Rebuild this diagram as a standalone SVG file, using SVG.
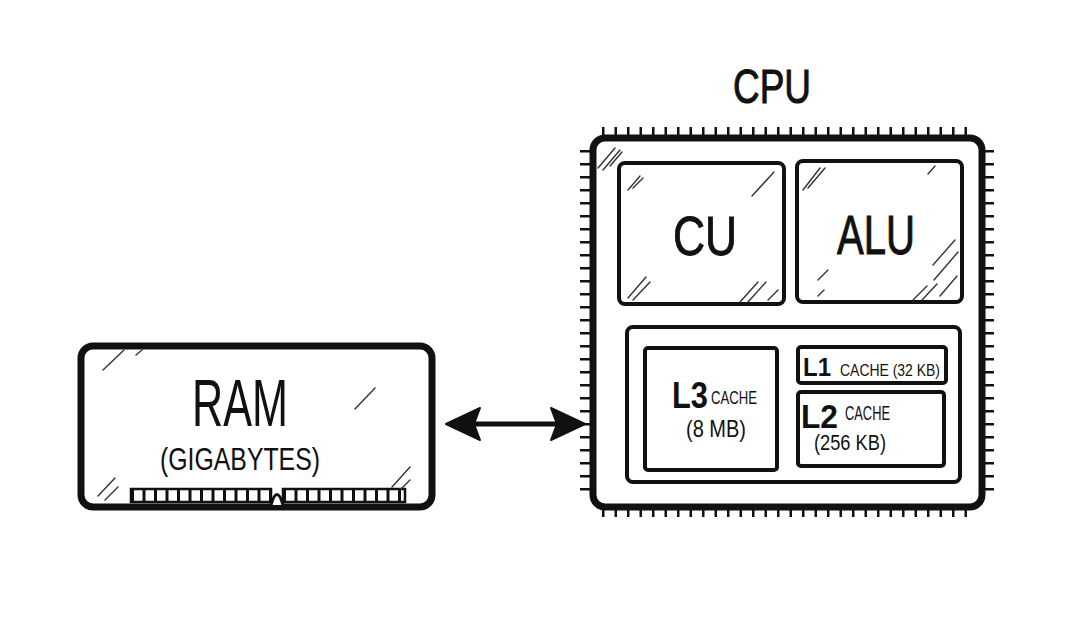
<svg xmlns="http://www.w3.org/2000/svg" width="1080" height="631" viewBox="0 0 1080 631">
<style>
.box{fill:#fff;stroke:#111;stroke-width:4;stroke-linejoin:round}
.thick{fill:#fff;stroke:#111;stroke-width:7;stroke-linejoin:round}
.hatch{stroke:#333;stroke-width:1.4;stroke-linecap:round;fill:none}
.pin{stroke:#111;fill:none}
.t{font-family:"Liberation Sans","DejaVu Sans",sans-serif;fill:#111;text-anchor:middle}
.s{text-anchor:start}
.b{font-weight:bold}
</style>
<rect width="1080" height="631" fill="#fff"/>

<g id="ram">
  <rect class="thick" x="81" y="346" width="351" height="161" rx="12"/>
  <path d="M131 489 H271 V502 H131 Z M283 489 H405 V502 H283 Z" fill="none" stroke="#111" stroke-width="2.5"/>
  <line x1="131" y1="495.5" x2="271" y2="495.5" stroke="#111" stroke-width="13" stroke-dasharray="3 8.5"/>
  <line x1="283" y1="495.5" x2="405" y2="495.5" stroke="#111" stroke-width="13" stroke-dasharray="3 8.5"/>
  <path d="M271 505 Q277 484 283 505" fill="#fff" stroke="#111" stroke-width="3"/>
  <path class="hatch" d="M103 370 L124 350 M136 355 L142 350 M355 409 L375 388 M98 496 L115 478 M105 500 L118 487 M392 487 L410 467 M400 490 L410 480"/>
  <text class="t" x="240" y="426" font-size="66" textLength="96" lengthAdjust="spacingAndGlyphs">RAM</text>
  <text class="t" x="240" y="470" font-size="32" textLength="160" lengthAdjust="spacingAndGlyphs">(GIGABYTES)</text>
</g>

<g id="connectors">
  <line x1="470" y1="424" x2="560" y2="424" stroke="#111" stroke-width="5"/>
  <path d="M446 424 L480 408 L474 424 L480 440 Z" fill="#111" stroke="#111" stroke-width="2" stroke-linejoin="round"/>
  <path d="M585 424 L551 408 L557 424 L551 440 Z" fill="#111" stroke="#111" stroke-width="2" stroke-linejoin="round"/>
</g>

<g id="cpu">
  <text class="t" x="772" y="103" font-size="48" textLength="78" lengthAdjust="spacingAndGlyphs" stroke="#111" stroke-width="1">CPU</text>
  <line class="pin" x1="602" y1="132" x2="972" y2="132" stroke-width="10" stroke-dasharray="2.5 10"/>
  <line class="pin" x1="602" y1="512" x2="972" y2="512" stroke-width="10" stroke-dasharray="2.5 10"/>
  <line class="pin" x1="586" y1="150" x2="586" y2="500" stroke-width="12" stroke-dasharray="2.5 10.5"/>
  <line class="pin" x1="988" y1="150" x2="988" y2="500" stroke-width="12" stroke-dasharray="2.5 10.5"/>
  <rect class="thick" x="593" y="138" width="389" height="369" rx="12"/>
  <path class="hatch" d="M598 168 L615 148 M603 170 L620 150 M610 166 L622 152"/>
</g>

<g id="cu">
  <rect class="box" x="619" y="163" width="165" height="141" rx="6"/>
  <path class="hatch" d="M628 190 L640 176 M633 188 L643 178 M752 196 L774 172 M628 298 L646 277 M633 300 L650 282 M740 302 L758 282 M748 302 L766 282 M768 300 L778 290"/>
  <text class="t" x="705" y="255" font-size="56" textLength="64" lengthAdjust="spacingAndGlyphs" stroke="#111" stroke-width="1">CU</text>
</g>

<g id="alu">
  <rect class="box" x="797" y="161" width="165" height="141" rx="6"/>
  <path class="hatch" d="M803 190 L820 168 M808 188 L825 168 M928 174 L935 166 M933 265 L955 240 M934 280 L958 252 M818 280 L828 270 M818 296 L824 290 M913 300 L927 286 M922 300 L937 284 M940 296 L957 276"/>
  <text class="t" x="876" y="254" font-size="56" textLength="78" lengthAdjust="spacingAndGlyphs" stroke="#111" stroke-width="1">ALU</text>
</g>

<g id="cache">
  <rect class="box" x="627" y="327" width="333" height="155" rx="6"/>
</g>

<g id="l3">
  <rect class="box" x="645" y="348" width="132" height="122" rx="3"/>
  <text class="t b s" x="672" y="408" font-size="36" textLength="36" lengthAdjust="spacingAndGlyphs">L3</text>
  <text class="t s" x="711" y="404" font-size="19" textLength="46" lengthAdjust="spacingAndGlyphs">CACHE</text>
  <text class="t" x="716" y="437" font-size="24" textLength="60" lengthAdjust="spacingAndGlyphs">(8 MB)</text>
</g>

<g id="l1">
  <rect class="box" x="798" y="347" width="148" height="36" rx="3"/>
  <text class="t b s" x="803" y="376" font-size="25" textLength="28" lengthAdjust="spacingAndGlyphs">L1</text>
  <text class="t s" x="840" y="376" font-size="17" textLength="100" lengthAdjust="spacingAndGlyphs">CACHE (32 KB)</text>
</g>

<g id="l2">
  <rect class="box" x="798" y="392" width="146" height="74" rx="3"/>
  <text class="t b s" x="801" y="428" font-size="33" textLength="37" lengthAdjust="spacingAndGlyphs">L2</text>
  <text class="t s" x="845" y="420" font-size="20" textLength="45" lengthAdjust="spacingAndGlyphs">CACHE</text>
  <text class="t" x="850" y="450" font-size="22" textLength="72" lengthAdjust="spacingAndGlyphs">(256 KB)</text>
</g>
</svg>
